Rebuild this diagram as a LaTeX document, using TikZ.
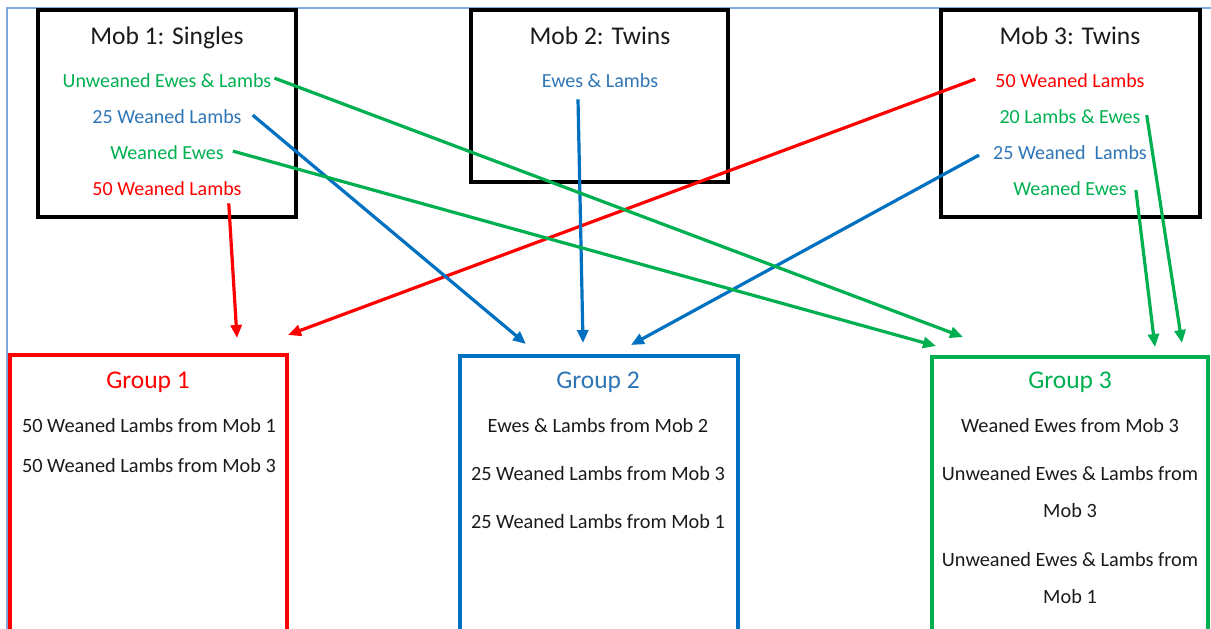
\documentclass[tikz,border=0pt]{standalone}
\usepackage{fontspec}
\setmainfont{Carlito}
\usetikzlibrary{arrows.meta,calc}
\definecolor{cred}{HTML}{FF0000}
\definecolor{cblue}{HTML}{0070C0}
\definecolor{tblue}{HTML}{2E75B6}
\definecolor{cgreen}{HTML}{00B050}
\definecolor{framec}{HTML}{7FAADB}
\definecolor{ink}{HTML}{1A1A1A}
\begin{document}
\begin{tikzpicture}[x=1pt,y=-1pt,
  mobbox/.style={draw=black,line width=3.6pt,inner sep=0pt},
  grpbox/.style={line width=3.3pt,inner sep=0pt},
  ttl/.style={anchor=base,inner sep=0pt,font=\fontsize{25.5}{30}\selectfont,text=ink},
  itm/.style={anchor=base,inner sep=0pt,font=\fontsize{20}{24}\selectfont},
  gitm/.style={anchor=base,inner sep=0pt,font=\fontsize{20.3}{24}\selectfont,text=ink},
  arr/.style={line width=3.2pt,-{Triangle[length=13pt,width=11pt]}}]
\useasboundingbox (0,0) rectangle (1211,629);
\clip (0,0) rectangle (1211,629);
% canvas frame
\draw[framec,line width=1.5pt] (7,640) -- (7,8) -- (1215,8);
% mob boxes
\node[mobbox,minimum width=258pt,minimum height=207pt] (mob1) at (167,113.5) {};
\node[mobbox,minimum width=257pt,minimum height=172pt] (mob2) at (599.5,96) {};
\node[mobbox,minimum width=259pt,minimum height=207pt] (mob3) at (1070.5,113.5) {};
% group boxes
\node[grpbox,draw=cred,minimum width=277pt,minimum height=320pt] (g1) at (148.5,515) {};
\node[grpbox,draw=cblue,minimum width=278pt,minimum height=320pt] (g2) at (599,516) {};
\node[grpbox,draw=cgreen,minimum width=276pt,minimum height=320pt] (g3) at (1070,517) {};
% mob texts
\node[ttl] (t1) at (167,44) {Mob 1: Singles};
\node[itm,text=cgreen] (m1a) at (167,87) {Unweaned Ewes \& Lambs};
\node[itm,text=tblue] (m1b) at (167,123) {25 Weaned Lambs};
\node[itm,text=cgreen] (m1c) at (167,159) {Weaned Ewes};
\node[itm,text=cred] (m1d) at (167,195) {50 Weaned Lambs};
\node[ttl] (t2) at (600,44) {Mob 2: Twins};
\node[itm,text=tblue] (m2a) at (600,87) {Ewes \& Lambs};
\node[ttl] (t3) at (1070,44) {Mob 3: Twins};
\node[itm,text=cred] (m3a) at (1070,87) {50 Weaned Lambs};
\node[itm,text=cgreen] (m3b) at (1070,123) {20 Lambs \& Ewes};
\node[itm,text=tblue] (m3c) at (1070,159) {25 Weaned\ \ Lambs};
\node[itm,text=cgreen] (m3d) at (1070,195) {Weaned Ewes};
% group texts
\node[ttl,text=cred] (gt1) at (148,388) {Group 1};
\node[gitm] (g1a) at (149,432) {50 Weaned Lambs from Mob 1};
\node[gitm] (g1b) at (149,472) {50 Weaned Lambs from Mob 3};
\node[ttl,text=tblue] (gt2) at (598,388) {Group 2};
\node[gitm] (g2a) at (598,432) {Ewes \& Lambs from Mob 2};
\node[gitm] (g2b) at (598,480) {25 Weaned Lambs from Mob 3};
\node[gitm] (g2c) at (598,528) {25 Weaned Lambs from Mob 1};
\node[ttl,text=cgreen] (gt3) at (1070,388) {Group 3};
\node[gitm] (g3a) at (1070,432) {Weaned Ewes from Mob 3};
\node[gitm] (g3b) at (1070,480) {Unweaned Ewes \& Lambs from};
\node[gitm] (g3c) at (1070,517) {Mob 3};
\node[gitm] (g3d) at (1070,566) {Unweaned Ewes \& Lambs from};
\node[gitm] (g3e) at (1070,603) {Mob 1};
% arrow end points
\coordinate (e1) at (237,338);
\coordinate (e2) at (288,335);
\coordinate (e3) at (526,344);
\coordinate (e4) at (583,343);
\coordinate (e5) at (631,345);
\coordinate (e6) at (963,337);
\coordinate (e7) at (936,346);
\coordinate (e8) at (1155,347);
\coordinate (e9) at (1182,343);
% arrows
\draw[arr,cred] ($(m1d.south east)+(-13,8)$) -- (e1);
\draw[arr,cred] ($(m3a.west)+(-20,-1)$) -- (e2);
\draw[arr,cblue] ($(m1b.east)+(11,-1)$) -- (e3);
\draw[arr,cblue] ($(m2a.south)+(-22,12)$) -- (e4);
\draw[arr,cblue] ($(m3c.west)+(-14,3)$) -- (e5);
\draw[arr,cgreen] ($(m1a.east)+(3,-2)$) -- (e6);
\draw[arr,cgreen] ($(m1c.east)+(9,-1)$) -- (e7);
\draw[arr,cgreen] ($(m3d.east)+(9,2)$) -- (e8);
\draw[arr,cgreen] ($(m3b.east)+(6,-1)$) -- (e9);
\end{tikzpicture}
\end{document}
